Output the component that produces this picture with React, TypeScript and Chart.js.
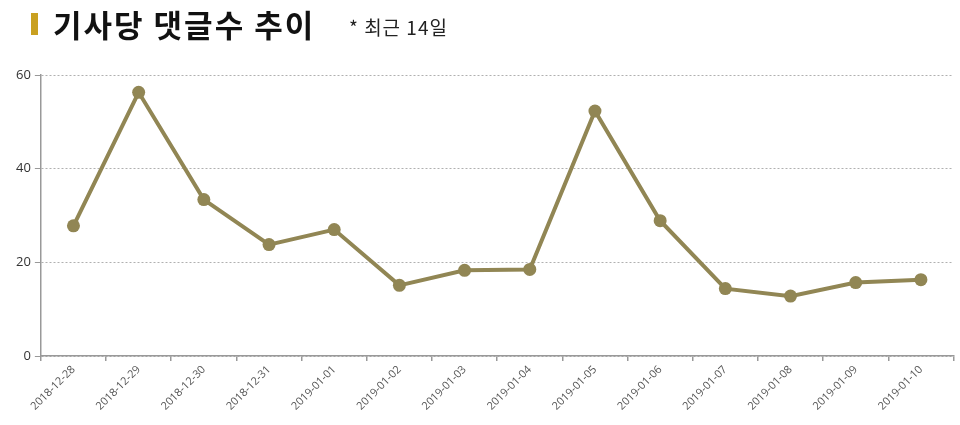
import React, { useEffect, useRef } from "react";
import { Chart, registerables } from "chart.js";

Chart.register(...registerables);

const categories = [
  "2018-12-28", "2018-12-29", "2018-12-30", "2018-12-31",
  "2019-01-01", "2019-01-02", "2019-01-03", "2019-01-04",
  "2019-01-05", "2019-01-06", "2019-01-07", "2019-01-08",
  "2019-01-09", "2019-01-10",
];
const commentsPerArticle = [27.8, 56.3, 33.4, 23.8, 27.0, 15.1, 18.3, 18.5, 52.3, 28.9, 14.4, 12.8, 15.7, 16.3];
const titleText = "기사당 댓글수 추이";
const subtitleText = "* 최근 14일";

export default function App() {
  const ref = useRef<HTMLCanvasElement | null>(null);

  useEffect(() => {
    document.body.style.margin = "0";
    const ctx = ref.current;
    if (!ctx) return;
    const chart = new Chart(ctx, {
      type: "line",
      data: {
        labels: categories,
        datasets: [
          {
            data: commentsPerArticle,
            borderColor: "#918654",
            backgroundColor: "#918654",
            borderWidth: 4,
            pointRadius: 6.5,
            pointHoverRadius: 6.5,
            pointBackgroundColor: "#918654",
            pointBorderWidth: 0,
            tension: 0,
            fill: false,
          },
        ],
      },
      options: {
        animation: false,
        responsive: false,
        maintainAspectRatio: false,
        layout: { padding: { top: 75, left: 12, right: 0, bottom: 10 } },
        plugins: {
          legend: { display: false },
          title: { display: false },
          tooltip: { enabled: false },
        },
        scales: {
          x: {
            offset: true,
            grid: {
              display: true,
              offset: true,
              drawOnChartArea: false,
              drawTicks: true,
              tickLength: 5,
              color: "#999",
              lineWidth: 1.5,
            },
            border: { display: true, color: "#999", width: 1.5 },
            ticks: {
              maxRotation: 45,
              minRotation: 45,
              autoSkip: false,
              color: "#555",
              font: { family: "'Open Sans', 'Noto Sans', sans-serif", size: 11 },
              padding: 2,
            },
          },
          y: {
            min: 0,
            max: 60,
            grid: {
              color: "#b0b0b0",
              lineWidth: 1,
              tickBorderDash: [],
              tickColor: "#999",
              tickLength: 6,
              drawTicks: true,
            },
            border: { display: true, color: "#999", width: 1.5, dash: [2, 2] },
            ticks: {
              stepSize: 20,
              color: "#333",
              font: { family: "'Open Sans', 'Noto Sans', sans-serif", size: 13 },
              padding: 4,
            },
          },
        },
      },
    });
    return () => chart.destroy();
  }, []);

  return (
    <div style={{ position: "fixed", left: 0, top: 0, width: 960, height: 425, background: "#fff" }}>
      <canvas ref={ref} width={960} height={425} style={{ position: "absolute", left: 0, top: 0, width: 960, height: 425 }} />
      <div style={{ position: "absolute", left: 31, top: 13, width: 7, height: 22, background: "#C9A020" }} />
      <div
        style={{
          position: "absolute",
          left: 53,
          top: 2,
          fontFamily: "'Noto Sans CJK KR', sans-serif",
          fontWeight: 700,
          fontSize: 31,
          letterSpacing: 2,
          lineHeight: "44px",
          color: "#111",
          whiteSpace: "nowrap",
        }}
      >
        {titleText}
      </div>
      <div
        style={{
          position: "absolute",
          left: 349,
          top: 13,
          fontFamily: "'Noto Sans CJK KR', sans-serif",
          fontSize: 19,
          letterSpacing: 1,
          lineHeight: "28px",
          color: "#222",
          whiteSpace: "nowrap",
        }}
      >
        {subtitleText}
      </div>
    </div>
  );
}
